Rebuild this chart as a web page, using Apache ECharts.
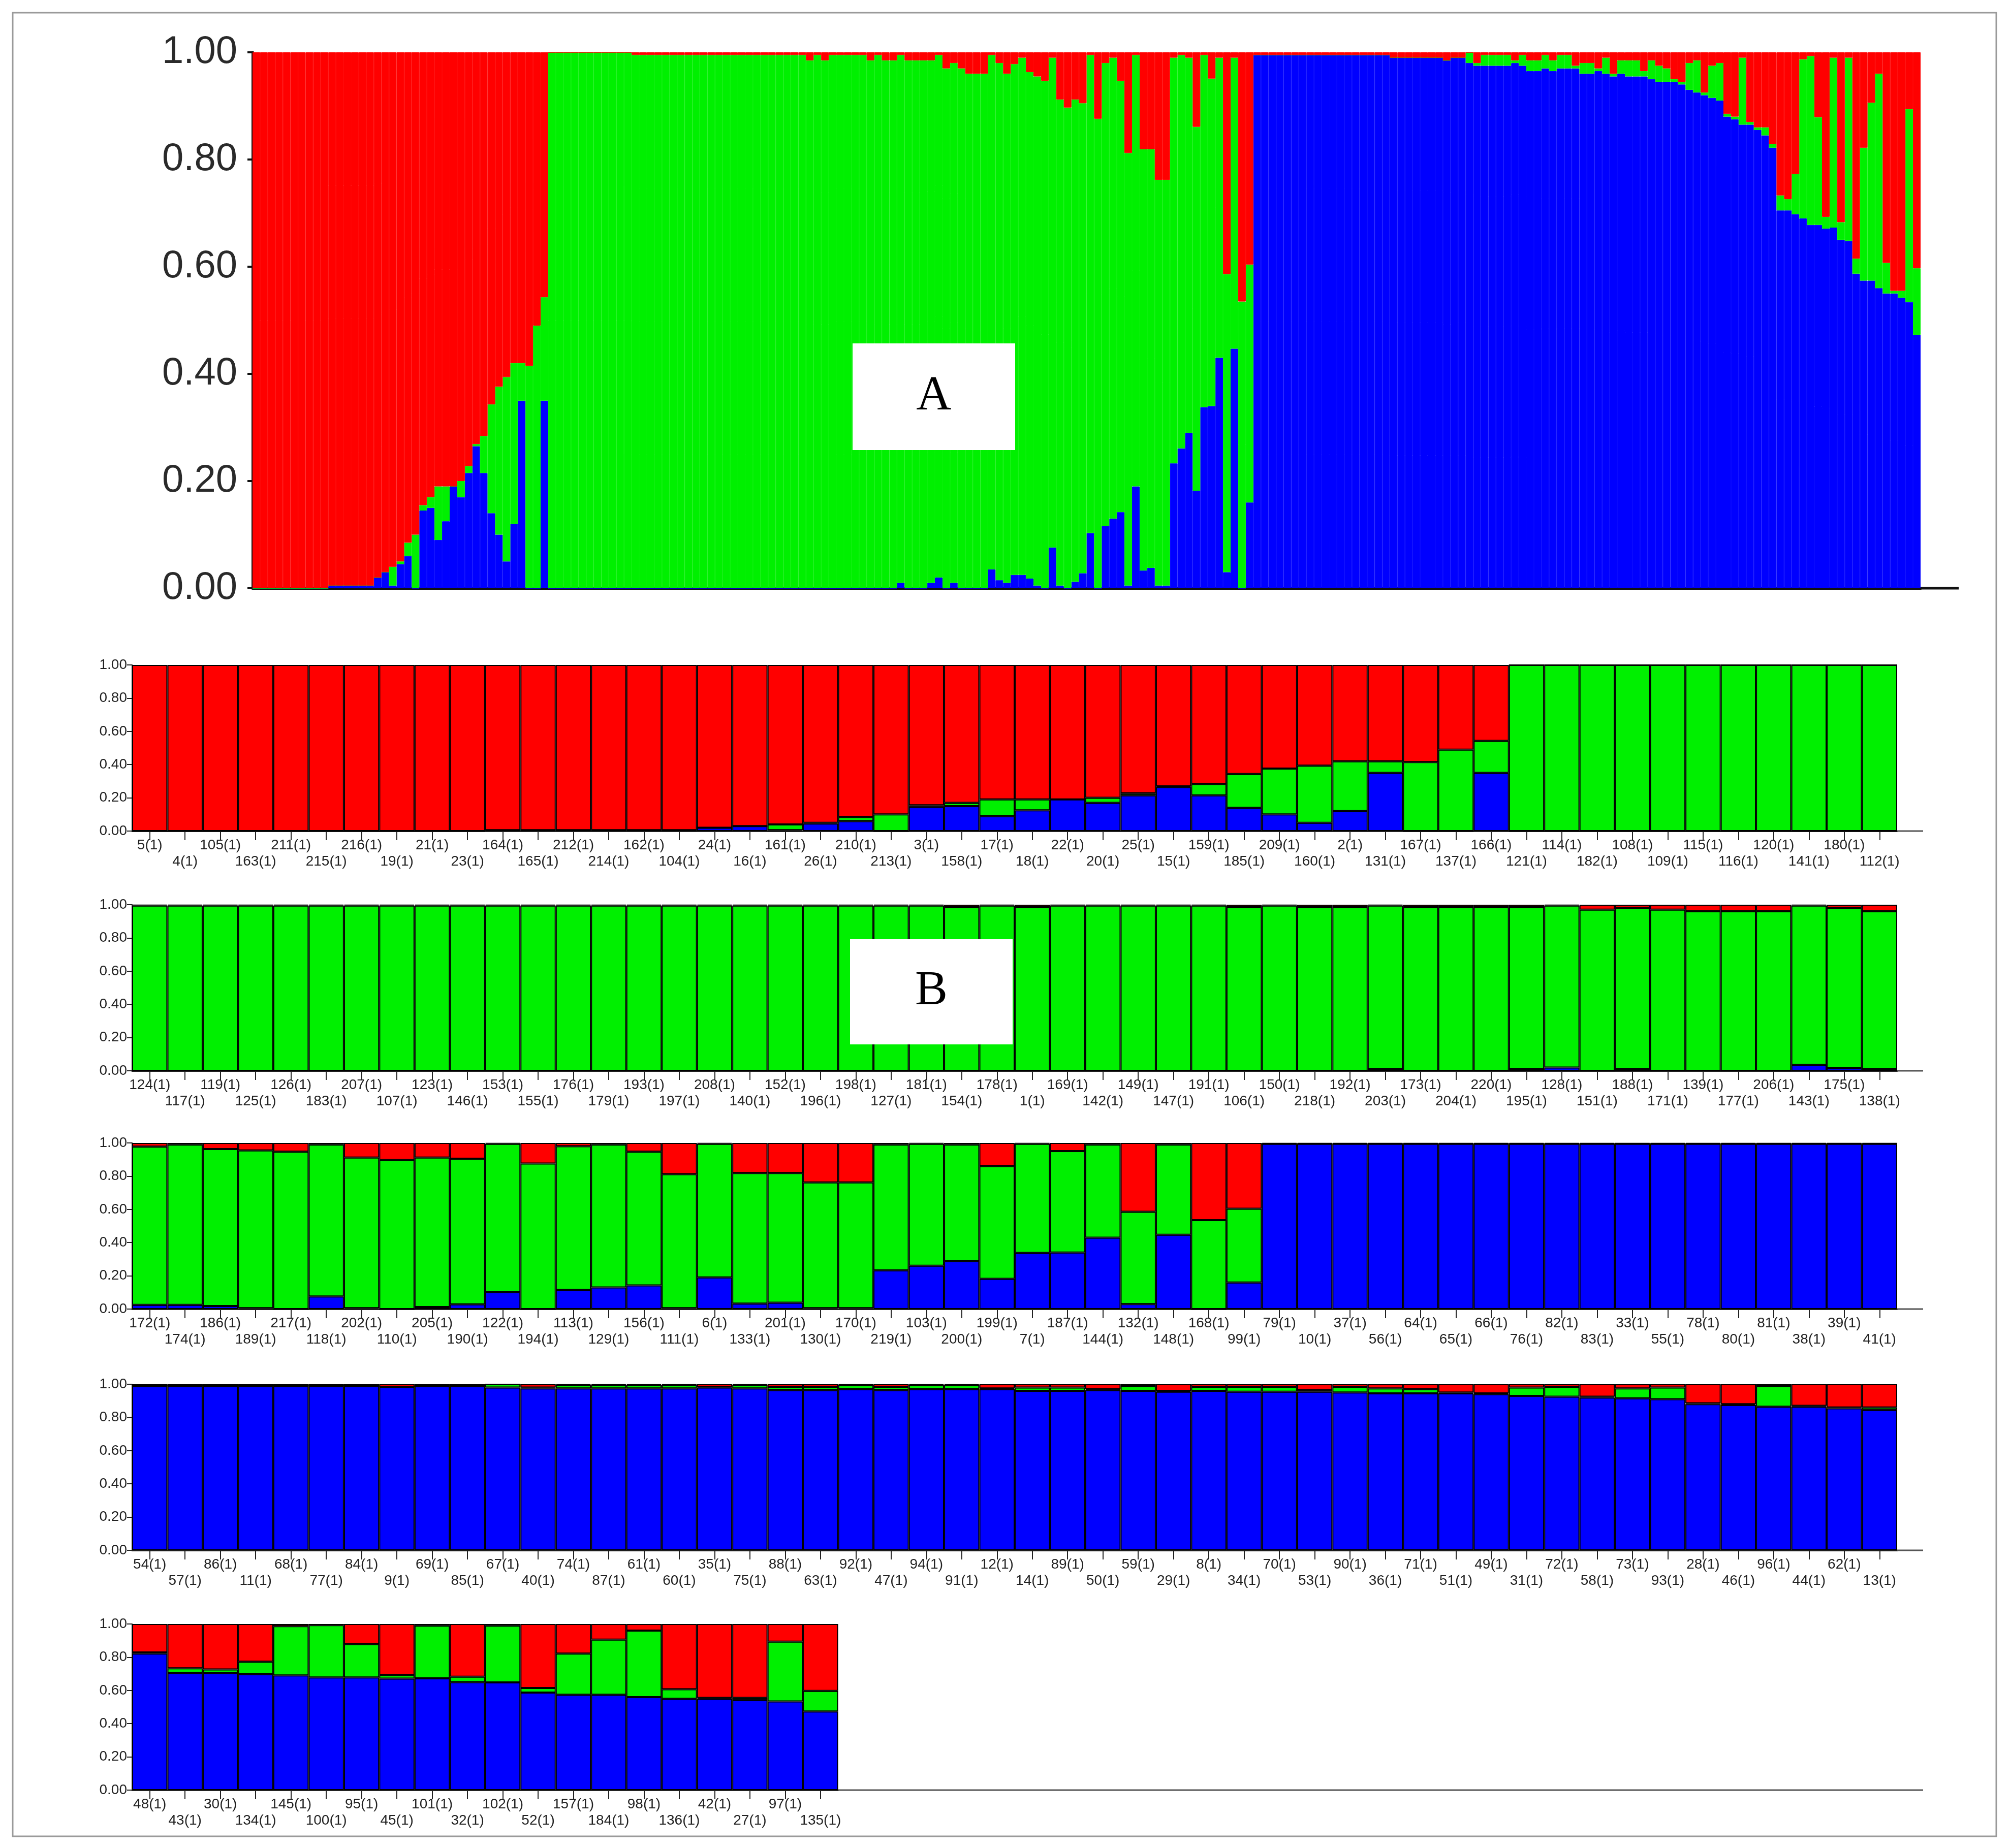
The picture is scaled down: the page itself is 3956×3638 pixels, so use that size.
<!DOCTYPE html>
<html>
<head>
<meta charset="utf-8">
<script src="https://cdn.jsdelivr.net/npm/echarts@6/dist/echarts.min.js"></script>
<style>
  html, body { margin: 0; padding: 0; background: #fff; }
  #chart { width: 3956px; height: 3638px; }
</style>
</head>
<body>
<div id="chart"></div>
<script>
// membership per cluster, order as in the plot
const row1Labels = ['5','4','105','163','211','215','216','19','21','23','164','165','212','214','162','104','24','16','161','26','210','213','3','158','17','18','22','20','25','15','159','185','209','160','2','131','167','137','166','121','114','182','108','109','115','116','120','141','180','112']
const row1Blue = [0,0,0,0,0,0,0,0,0,0,0.005,0.005,0.005,0.005,0.005,0.005,0.02,0.03,0.005,0.045,0.06,0,0.145,0.15,0.09,0.125,0.19,0.17,0.215,0.265,0.215,0.14,0.1,0.05,0.12,0.35,0,0,0.35,0,0,0,0,0,0,0,0,0,0,0]
const row1Green = [0,0,0,0,0,0,0,0,0,0,0,0,0,0,0,0,0,0,0.035,0.005,0.025,0.1,0.01,0.02,0.1,0.065,0,0.03,0.013,0.004,0.069,0.203,0.276,0.344,0.3,0.07,0.415,0.49,0.193,1,1,1,1,1,1,1,1,1,1,1]
const row1Red = [1,1,1,1,1,1,1,1,1,1,0.995,0.995,0.995,0.995,0.995,0.995,0.98,0.97,0.96,0.95,0.915,0.9,0.845,0.83,0.81,0.81,0.81,0.8,0.772,0.731,0.716,0.657,0.624,0.606,0.58,0.58,0.585,0.51,0.457,0,0,0,0,0,0,0,0,0,0,0]

const row2Labels = ['124','117','119','125','126','183','207','107','123','146','153','155','176','179','193','197','208','140','152','196','198','127','181','154','178','1','169','142','149','147','191','106','150','218','192','203','173','204','220','195','128','151','188','171','139','177','206','143','175','138']
const row2Blue = [0,0,0,0,0,0,0,0,0,0,0,0,0,0,0,0,0,0,0,0,0,0,0,0,0,0,0,0,0,0,0,0,0,0,0,0.01,0,0,0,0.01,0.02,0,0.01,0,0,0,0,0.035,0.015,0.01]
const row2Green = [0.995,0.995,0.995,0.995,0.995,0.995,0.995,0.995,0.995,0.995,0.995,0.995,0.995,0.995,0.995,0.995,0.995,0.995,0.995,0.995,0.995,0.995,0.995,0.985,0.995,0.985,0.995,0.995,0.995,0.995,0.995,0.985,0.995,0.985,0.985,0.985,0.985,0.985,0.985,0.975,0.975,0.97,0.97,0.97,0.96,0.96,0.96,0.96,0.965,0.95]
const row2Red = [0.005,0.005,0.005,0.005,0.005,0.005,0.005,0.005,0.005,0.005,0.005,0.005,0.005,0.005,0.005,0.005,0.005,0.005,0.005,0.005,0.005,0.005,0.005,0.015,0.005,0.015,0.005,0.005,0.005,0.005,0.005,0.015,0.005,0.015,0.015,0.005,0.015,0.015,0.015,0.015,0.005,0.03,0.02,0.03,0.04,0.04,0.04,0.005,0.02,0.04]

const row3Labels = ['172','174','186','189','217','118','202','110','205','190','122','194','113','129','156','111','6','133','201','130','170','219','103','200','199','7','187','144','132','148','168','99','79','10','37','56','64','65','66','76','82','83','33','55','78','80','81','38','39','41']
const row3Blue = [0.025,0.025,0.018,0.005,0,0.076,0.005,0,0.012,0.028,0.103,0,0.116,0.13,0.142,0.005,0.19,0.033,0.038,0.005,0.005,0.233,0.261,0.29,0.182,0.338,0.34,0.43,0.03,0.447,0,0.16,0.995,0.995,0.995,0.995,0.995,0.995,0.995,0.995,0.995,0.995,0.995,0.995,0.995,0.995,0.995,0.995,0.995,0.995]
const row3Green = [0.953,0.965,0.945,0.95,0.947,0.914,0.907,0.897,0.9,0.877,0.892,0.876,0.864,0.86,0.805,0.807,0.805,0.786,0.781,0.757,0.757,0.757,0.734,0.7,0.679,0.657,0.611,0.56,0.556,0.543,0.535,0.444,0,0,0,0,0,0,0,0,0,0,0,0,0,0,0,0,0,0]
const row3Red = [0.022,0.01,0.037,0.045,0.053,0.01,0.088,0.103,0.088,0.095,0.005,0.124,0.02,0.01,0.053,0.188,0.005,0.181,0.181,0.238,0.238,0.01,0.005,0.01,0.139,0.005,0.049,0.01,0.414,0.01,0.465,0.396,0.005,0.005,0.005,0.005,0.005,0.005,0.005,0.005,0.005,0.005,0.005,0.005,0.005,0.005,0.005,0.005,0.005,0.005]

const row4Labels = ['54','57','86','11','68','77','84','9','69','85','67','40','74','87','61','60','35','75','88','63','92','47','94','91','12','14','89','50','59','29','8','34','70','53','90','36','71','51','49','31','72','58','73','93','28','46','96','44','62','13']
const row4Blue = [0.99,0.99,0.99,0.99,0.99,0.99,0.99,0.985,0.99,0.99,0.98,0.975,0.975,0.975,0.975,0.975,0.98,0.975,0.965,0.965,0.97,0.965,0.97,0.97,0.97,0.96,0.96,0.965,0.96,0.955,0.96,0.955,0.955,0.955,0.95,0.945,0.945,0.945,0.94,0.93,0.925,0.92,0.915,0.91,0.88,0.875,0.865,0.865,0.855,0.845]
const row4Green = [0,0,0,0,0,0,0,0,0,0,0.02,0.005,0.02,0.02,0.02,0.02,0.005,0.02,0.02,0.02,0.025,0.02,0.025,0.025,0.005,0.02,0.02,0.005,0.03,0.005,0.025,0.03,0.03,0.01,0.035,0.03,0.025,0.005,0.005,0.05,0.06,0.005,0.06,0.07,0.005,0.005,0.125,0.005,0.005,0.015]
const row4Red = [0.01,0.01,0.01,0.01,0.01,0.01,0.01,0.015,0.01,0.01,0,0.02,0.005,0.005,0.005,0.005,0.015,0.005,0.015,0.015,0.005,0.015,0.005,0.005,0.025,0.02,0.02,0.03,0.01,0.04,0.015,0.015,0.015,0.035,0.015,0.025,0.03,0.05,0.055,0.02,0.015,0.075,0.025,0.02,0.115,0.12,0.01,0.13,0.14,0.14]

const row5Labels = ['48','43','30','134','145','100','95','45','101','32','102','52','157','184','98','136','42','27','97','135']
const row5Blue = [0.822,0.705,0.705,0.698,0.69,0.678,0.678,0.671,0.673,0.65,0.648,0.587,0.574,0.574,0.56,0.55,0.55,0.542,0.534,0.473]
const row5Green = [0.007,0.028,0.021,0.075,0.297,0.315,0.201,0.022,0.317,0.033,0.342,0.028,0.248,0.332,0.4,0.057,0.005,0.013,0.36,0.124]
const row5Red = [0.171,0.267,0.274,0.227,0.013,0.007,0.121,0.307,0.01,0.317,0.01,0.385,0.178,0.094,0.04,0.393,0.445,0.445,0.106,0.403]

const RED = '#ff0000'
const GREEN = '#00f000'
const BLUE = '#0000ff'
const FONT = 'Liberation Sans, Arial, sans-serif'

const rows = [
  { labels: row1Labels, blue: row1Blue, green: row1Green, red: row1Red },
  { labels: row2Labels, blue: row2Blue, green: row2Green, red: row2Red },
  { labels: row3Labels, blue: row3Blue, green: row3Green, red: row3Red },
  { labels: row4Labels, blue: row4Blue, green: row4Green, red: row4Red },
  { labels: row5Labels, blue: row5Blue, green: row5Green, red: row5Red },
]
const rowTops = [1309, 1781, 2250, 2725, 3197]
const rowH = 327
const barW = 69.48

const allLabels = rows.flatMap((r) => r.labels)
const allBlue = rows.flatMap((r) => r.blue)
const allGreen = rows.flatMap((r) => r.green)
const allRed = rows.flatMap((r) => r.red)

const chart = echarts.init(document.getElementById('chart'), null, { renderer: 'canvas' })

const grid = [{ left: 497, top: 103, width: 3283, height: 1055 }]
const xAxis = [{
  gridIndex: 0, type: 'category', data: allLabels,
  axisLine: { lineStyle: { color: '#111', width: 5 } },
  axisTick: { show: false }, axisLabel: { show: false },
}]
const yAxis = [{
  gridIndex: 0, type: 'value', min: 0, max: 1, interval: 0.2,
  splitLine: { show: false },
  axisLine: { show: true, lineStyle: { color: '#111', width: 5 } },
  axisTick: { show: true, length: 10, lineStyle: { color: '#111', width: 4 } },
  axisLabel: { fontSize: 76, color: '#2a2a2a', fontFamily: FONT, margin: 30, formatter: (v) => v.toFixed(2) },
}]
const series = []
const addStack = (idx, blue, green, red, border) => {
  const base = {
    type: 'bar', stack: 's' + idx, xAxisIndex: idx, yAxisIndex: idx,
    barCategoryGap: '0%', barGap: '0%', animation: false,
  }
  // panel A: same-colour edge hides seams between thin bars
  const style = (c) => border
    ? { color: c, borderColor: '#000', borderWidth: 2 }
    : { color: c, borderColor: c, borderWidth: 1 }
  series.push({ ...base, name: 'blue', data: blue, itemStyle: style(BLUE) })
  series.push({ ...base, name: 'green', data: green, itemStyle: style(GREEN) })
  series.push({ ...base, name: 'red', data: red, itemStyle: style(RED) })
}
addStack(0, allBlue, allGreen, allRed, false)

rows.forEach((r, i) => {
  const gi = i + 1
  grid.push({ left: 260, top: rowTops[i], width: barW * r.labels.length, height: rowH })
  xAxis.push({
    gridIndex: gi, type: 'category', data: r.labels,
    axisLine: { lineStyle: { color: '#222', width: 3 } },
    axisTick: { show: true, alignWithLabel: true, interval: 0, length: 18, lineStyle: { color: '#222', width: 2 } },
    axisLabel: {
      interval: 0, fontSize: 28, lineHeight: 32, color: '#222', fontFamily: FONT, margin: 12,
      formatter: (v, k) => (k % 2 ? '\n' + v + '(1)' : v + '(1)'),
    },
  })
  yAxis.push({
    gridIndex: gi, type: 'value', min: 0, max: 1, interval: 0.2,
    splitLine: { show: false },
    axisLine: { show: true, lineStyle: { color: '#222', width: 2 } },
    axisTick: { show: true, length: 10, lineStyle: { color: '#222', width: 2 } },
    axisLabel: { fontSize: 28, color: '#222', fontFamily: FONT, margin: 10, formatter: (v) => v.toFixed(2) },
  })
  addStack(gi, r.blue, r.green, r.red, true)
})

const graphic = [
  { type: 'rect', shape: { x: 25, y: 25, width: 3904, height: 3590 }, style: { fill: 'none', stroke: '#9a9a9a', lineWidth: 3 }, z: 100 },
  { type: 'line', shape: { x1: 3780, y1: 1158, x2: 3855, y2: 1158 }, style: { stroke: '#111', lineWidth: 5 }, z: 100 },
  { type: 'rect', shape: { x: 1678, y: 676, width: 320, height: 210 }, style: { fill: '#fff' }, z: 100 },
  { type: 'text', x: 1838, y: 781, style: { text: 'A', font: '96px "Liberation Serif", serif', fill: '#000', align: 'center', verticalAlign: 'middle' }, z: 101 },
  { type: 'rect', shape: { x: 1673, y: 1849, width: 320, height: 207 }, style: { fill: '#fff' }, z: 100 },
  { type: 'text', x: 1833, y: 1952, style: { text: 'B', font: '96px "Liberation Serif", serif', fill: '#000', align: 'center', verticalAlign: 'middle' }, z: 101 },
]
rows.forEach((r, i) => {
  const x1 = 260 + barW * r.labels.length
  const y = rowTops[i] + rowH
  graphic.push({ type: 'line', shape: { x1, y1: y, x2: 3785, y2: y }, style: { stroke: '#555', lineWidth: 3 }, z: 100 })
})

chart.setOption({
  backgroundColor: '#fff',
  animation: false,
  grid, xAxis, yAxis, series, graphic,
})
</script>
</body>
</html>
